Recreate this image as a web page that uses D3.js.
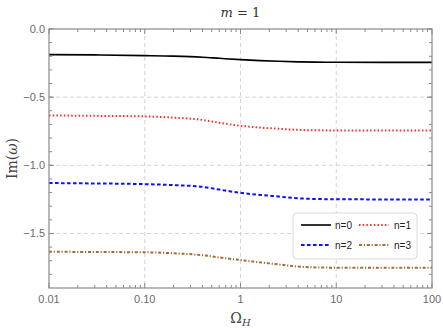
<!DOCTYPE html>
<html>
<head>
<meta charset="utf-8">
<script src="https://cdn.jsdelivr.net/npm/d3@7"></script>
<style>
  body { margin: 0; background: #fff; }
  svg { display: block; }
  .tick-label { font-family: "Liberation Sans", Arial, sans-serif; font-size: 11px; fill: #6b6b6b; }
  .serif { font-family: "DejaVu Serif", "Liberation Serif", serif; }
</style>
</head>
<body>
<svg id="chart" width="443" height="332"></svg>
<script>

// values
var omegaH = [0.01, 0.03, 0.1, 0.2, 0.4, 0.6, 1, 1.6, 2.5, 4, 6, 10, 30, 100];
var im_n0 = [-0.188, -0.190, -0.195, -0.199, -0.207, -0.215, -0.225, -0.232, -0.237, -0.241, -0.243, -0.244, -0.245, -0.245];
var im_n1 = [-0.634, -0.637, -0.641, -0.650, -0.667, -0.688, -0.710, -0.723, -0.732, -0.740, -0.743, -0.744, -0.745, -0.745];
var im_n2 = [-1.130, -1.133, -1.138, -1.145, -1.158, -1.178, -1.202, -1.217, -1.229, -1.242, -1.247, -1.249, -1.250, -1.250];
var im_n3 = [-1.634, -1.636, -1.638, -1.645, -1.659, -1.676, -1.695, -1.712, -1.727, -1.743, -1.749, -1.751, -1.752, -1.752];
var seriesNames = ["n=0", "n=1", "n=2", "n=3"];
var xTicks = [0.01, 0.1, 1, 10, 100];
var xTickLabels = ["0.01", "0.10", "1", "10", "100"];
var yTicks = [0, -0.5, -1, -1.5];
var yTickLabels = ["0.0", "\u22120.5", "\u22121.0", "\u22121.5"];

var styles = [
  { color: "#000000", dash: null, width: 1.6 },
  { color: "#ff2a2a", dash: "1.5,2.2", width: 2 },
  { color: "#1010ff", dash: "3.6,2.4", width: 2 },
  { color: "#a36b32", dash: "3,1.8,1.2,1.8", width: 2 }
];

var svg = d3.select("#chart");
var margin = {top: 29, right: 11, bottom: 44, left: 49},
    width = 443 - margin.left - margin.right,
    height = 332 - margin.top - margin.bottom;
var g = svg.append("g").attr("transform", "translate(" + margin.left + "," + margin.top + ")");

var x = d3.scaleLog().domain([0.01, 100]).range([0, width]);
var y = d3.scaleLinear().domain([-1.9, 0]).range([height, 0]);

// grid
g.selectAll(".gx").data(xTicks.slice(1, -1)).enter().append("line")
    .attr("x1", function(d) { return x(d); }).attr("x2", function(d) { return x(d); })
    .attr("y1", 0).attr("y2", height)
    .attr("stroke", "#d4d4d4").attr("stroke-dasharray", "4,3");
g.selectAll(".gy").data(yTicks.slice(1)).enter().append("line")
    .attr("x1", 0).attr("x2", width)
    .attr("y1", function(d) { return y(d); }).attr("y2", function(d) { return y(d); })
    .attr("stroke", "#d4d4d4").attr("stroke-dasharray", "4,3");

// minor/major ticks on all four sides
var xMinor = [];
for (var e = -2; e < 2; e++) for (var k = 2; k <= 9; k++) xMinor.push(k * Math.pow(10, e));
var yMinor = d3.range(0, 19).map(function(i) { return -i / 10; });

function tickLines(data, pos, len, horizontal, side) {
  g.append("g").selectAll("line").data(data).enter().append("line")
    .attr("x1", function(d) { return horizontal ? pos(d) : (side ? width : 0); })
    .attr("x2", function(d) { return horizontal ? pos(d) : (side ? width - len : len); })
    .attr("y1", function(d) { return horizontal ? (side ? 0 : height) : pos(d); })
    .attr("y2", function(d) { return horizontal ? (side ? len : height - len) : pos(d); })
    .attr("stroke", "#8a8a8a").attr("stroke-width", 1);
}
tickLines(xMinor, x, 3, true, false);
tickLines(xMinor, x, 3, true, true);
tickLines(xTicks, x, 5, true, false);
tickLines(xTicks, x, 5, true, true);
tickLines(yMinor, y, 3, false, false);
tickLines(yMinor, y, 3, false, true);
tickLines(yTicks, y, 5, false, false);
tickLines(yTicks, y, 5, false, true);

// lines
var allSeries = [im_n0, im_n1, im_n2, im_n3];
var line = d3.line()
    .curve(d3.curveMonotoneX)
    .x(function(d, i) { return x(omegaH[i]); })
    .y(function(d) { return y(d); });

allSeries.forEach(function(s, i) {
  g.append("path")
      .datum(s)
      .attr("fill", "none")
      .attr("stroke", styles[i].color)
      .attr("stroke-width", styles[i].width)
      .attr("stroke-dasharray", styles[i].dash)
      .attr("d", line);
});

// frame
g.append("rect").attr("width", width).attr("height", height)
    .attr("fill", "none").attr("stroke", "#8a8a8a").attr("stroke-width", 1.2);

// tick labels
g.selectAll(".xl").data(xTicks).enter().append("text")
    .attr("class", "tick-label")
    .attr("x", function(d) { return x(d); })
    .attr("y", height + 15)
    .attr("text-anchor", "middle")
    .text(function(d, i) { return xTickLabels[i]; });
g.selectAll(".yl").data(yTicks).enter().append("text")
    .attr("class", "tick-label")
    .attr("x", -4)
    .attr("y", function(d) { return y(d) + 4; })
    .attr("text-anchor", "end")
    .text(function(d, i) { return yTickLabels[i]; });

// title
var title = svg.append("text").attr("class", "serif")
    .attr("x", margin.left + width / 2).attr("y", 17)
    .attr("text-anchor", "middle").attr("font-size", 13).attr("fill", "#333");
title.append("tspan").attr("font-style", "italic").text("m");
title.append("tspan").text(" = 1");

// axis labels
var xl = svg.append("text").attr("class", "serif")
    .attr("x", margin.left + width / 2).attr("y", 323)
    .attr("text-anchor", "middle").attr("font-size", 14).attr("fill", "#444");
xl.append("tspan").text("\u03A9");
xl.append("tspan").attr("font-style", "italic").attr("font-size", 10).attr("dy", 3).text("H");

var yl = svg.append("text").attr("class", "serif")
    .attr("transform", "translate(17," + (margin.top + height / 2) + ") rotate(-90)")
    .attr("text-anchor", "middle").attr("font-size", 14).attr("fill", "#444");
yl.append("tspan").text("Im(");
yl.append("tspan").attr("font-style", "italic").text("\u03C9");
yl.append("tspan").text(")");

// legend
var legend = svg.append("g");
legend.append("rect")
    .attr("x", 293).attr("y", 213).attr("width", 124).attr("height", 46)
    .attr("rx", 4).attr("fill", "#fff").attr("stroke", "#dadada");
var legPos = [[301, 225], [359, 225], [301, 245], [359, 245]];
seriesNames.forEach(function(name, i) {
  var p = legPos[i];
  legend.append("line")
      .attr("x1", p[0]).attr("x2", p[0] + 30)
      .attr("y1", p[1]).attr("y2", p[1])
      .attr("stroke", styles[i].color)
      .attr("stroke-width", styles[i].width)
      .attr("stroke-dasharray", styles[i].dash);
  legend.append("text")
      .attr("x", i % 2 === 0 ? p[0] + 34 : p[0] + 35)
      .attr("y", p[1] + 4)
      .attr("font-family", "Liberation Sans, Arial, sans-serif")
      .attr("font-size", 10).attr("fill", "#222")
      .text(name);
});

</script>
</body>
</html>
